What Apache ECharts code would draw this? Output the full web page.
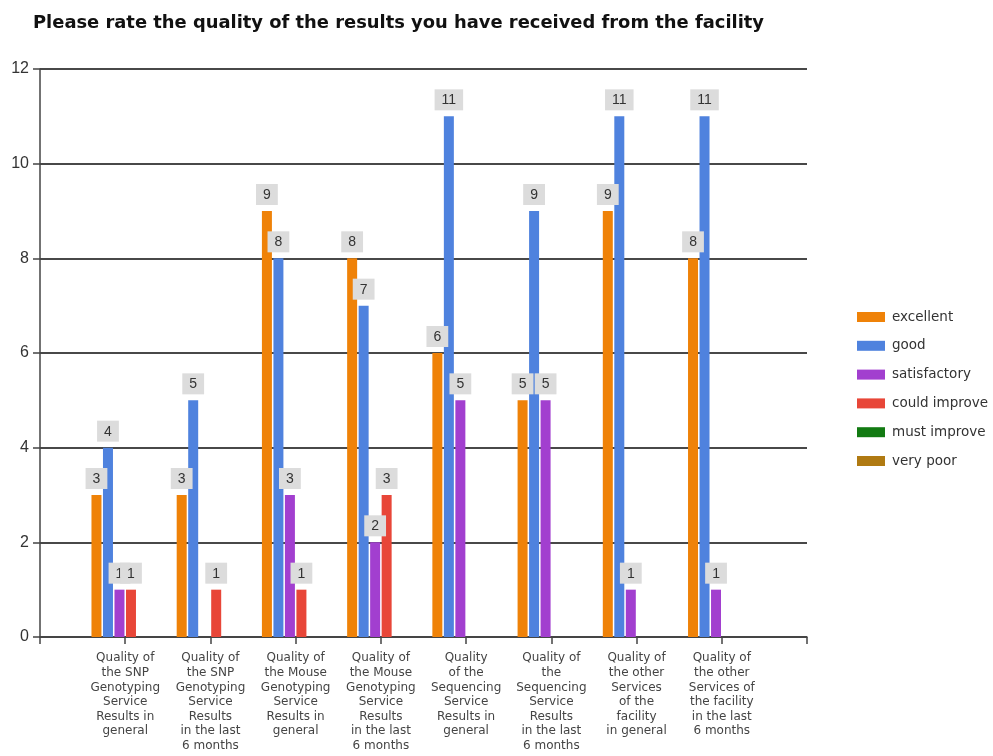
<!DOCTYPE html>
<html>
<head>
<meta charset="utf-8">
<script src="https://cdn.jsdelivr.net/npm/echarts@6/dist/echarts.min.js"></script>
<style>
html,body{margin:0;padding:0;background:#fff;}
#chart{width:993px;height:756px;}
</style>
</head>
<body>
<div id="chart"></div>
<script>
const categories = [
  "Quality of\nthe SNP\nGenotyping\nService\nResults in\ngeneral",
  "Quality of\nthe SNP\nGenotyping\nService\nResults\nin the last\n6 months",
  "Quality of\nthe Mouse\nGenotyping\nService\nResults in\ngeneral",
  "Quality of\nthe Mouse\nGenotyping\nService\nResults\nin the last\n6 months",
  "Quality\nof the\nSequencing\nService\nResults in\ngeneral",
  "Quality of\nthe\nSequencing\nService\nResults\nin the last\n6 months",
  "Quality of\nthe other\nServices\nof the\nfacility\nin general",
  "Quality of\nthe other\nServices of\nthe facility\nin the last\n6 months"
];
const seriesNames = ["excellent", "good", "satisfactory", "could improve", "must improve", "very poor"];
const excellent    = [3, 3, 9, 8, 6, 5, 9, 8];
const good         = [4, 5, 8, 7, 11, 9, 11, 11];
const satisfactory = [1, null, 3, 2, 5, 5, 1, 1];
const couldImprove = [1, 1, 1, 3, null, null, null, null];
const mustImprove  = [null, null, null, null, null, null, null, null];
const veryPoor     = [null, null, null, null, null, null, null, null];
const yTicks = [0, 2, 4, 6, 8, 10, 12];

const seriesValues = [excellent, good, satisfactory, couldImprove, mustImprove, veryPoor];
const colors = ["#EF8208", "#4F82DE", "#A23FCF", "#E84638", "#127A12", "#B07A12"];

// padded category axis: empty slots at both ends
const axisCats = [""].concat(categories, [""]);

const chart = echarts.init(document.getElementById('chart'), null, {renderer: 'canvas'});
chart.setOption({
  animation: false,
  backgroundColor: '#ffffff',
  title: {
    text: 'Please rate the quality of the results you have received from the facility',
    left: 28, top: 9,
    textStyle: {fontFamily: 'DejaVu Sans', fontWeight: 'bold', fontSize: 17.9, color: '#111'}
  },
  legend: {
    orient: 'vertical',
    left: 852, top: 305,
    itemWidth: 28, itemHeight: 10, itemGap: 14.8,
    icon: 'rect',
    textStyle: {fontFamily: 'DejaVu Sans', fontSize: 13.5, color: '#333', padding: [0, 0, 0, 2]},
    data: seriesNames
  },
  grid: {left: 40, right: 186, top: 69, bottom: 119, containLabel: false},
  xAxis: {
    type: 'category',
    data: axisCats,
    boundaryGap: false,
    axisLine: {lineStyle: {color: '#444', width: 1.5}},
    axisTick: {show: true, length: 7, lineStyle: {color: '#444', width: 1.5}},
    axisLabel: {
      interval: 0, margin: 14,
      fontFamily: 'DejaVu Sans', fontSize: 12, lineHeight: 14.6,
      color: '#444', align: 'center'
    },
    splitLine: {show: false}
  },
  yAxis: {
    type: 'value',
    min: yTicks[0], max: yTicks[yTicks.length - 1], interval: 2,
    axisLine: {show: true, lineStyle: {color: '#444', width: 1.5}},
    axisTick: {show: true, length: 7, lineStyle: {color: '#444', width: 1.5}},
    axisLabel: {margin: 11, fontFamily: 'Liberation Sans', fontSize: 16, color: '#333'},
    splitLine: {show: true, lineStyle: {color: '#484848', width: 1.8}}
  },
  series: seriesNames.map((name, i) => ({
    name: name,
    type: 'bar',
    data: [null].concat(seriesValues[i], [null]),
    barWidth: 10,
    barGap: '15%',
    itemStyle: {color: colors[i]},
    label: {
      show: true,
      position: 'top',
      distance: 6,
      formatter: p => (p.value == null ? '' : String(p.value)),
      backgroundColor: '#dcdcdc',
      padding: [4, 7, 3, 7],
      fontFamily: 'Liberation Sans',
      fontSize: 14,
      color: '#333'
    }
  }))
});
</script>
</body>
</html>
